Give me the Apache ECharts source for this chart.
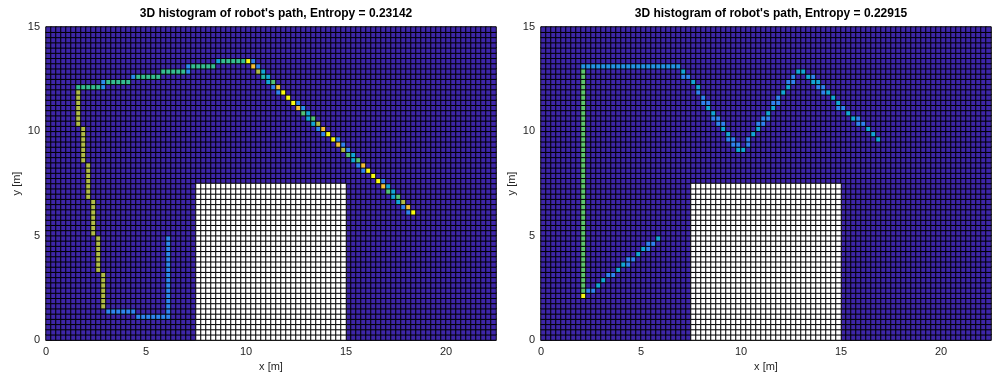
<!DOCTYPE html>
<html>
<head>
<meta charset="utf-8">
<script src="https://cdn.jsdelivr.net/npm/echarts@6/dist/echarts.min.js"></script>
<style>
  html, body { margin: 0; padding: 0; background: #fff; }
  #main { width: 993px; height: 383px; }
</style>
</head>
<body>
<div id="main"></div>
<script>
// histogram bins: 0.25 m cells, 90 x 60 over a 22.5 x 15 m map
const cellSize = 0.25;
const nX = 90, nY = 60;
const xTicks = [0, 5, 10, 15, 20];
const yTicks = [0, 5, 10, 15];
const titles = [
  "3D histogram of robot's path, Entropy = 0.23142",
  "3D histogram of robot's path, Entropy = 0.22915"
];

// obstacle cells (shown white): [ix0, ix1, iy0, iy1]
const obstacle = [30, 59, 0, 29];

// straight runs of path cells: [ix0, ix1, iy0, iy1, count]
const leftRuns = [
  [18, 24, 4, 4, 0.28], [12, 17, 5, 5, 0.28], [24, 24, 5, 19, 0.28],
  [11, 11, 6, 12, 0.72], [10, 10, 13, 19, 0.72], [9, 9, 20, 26, 0.72],
  [8, 8, 27, 33, 0.72], [7, 7, 34, 40, 0.72], [6, 6, 41, 47, 0.72],
  [6, 10, 48, 48, 0.53], [11, 11, 48, 48, 0.3],
  [11, 11, 49, 49, 0.3], [12, 16, 49, 49, 0.53],
  [17, 17, 50, 50, 0.3], [18, 22, 50, 50, 0.53],
  [23, 27, 51, 51, 0.53], [28, 28, 51, 51, 0.3],
  [28, 28, 52, 52, 0.3], [29, 33, 52, 52, 0.53],
  [34, 34, 53, 53, 0.4], [35, 39, 53, 53, 0.53], [40, 40, 53, 53, 1.0]
];

// single path cells: [ix, iy, count]
const leftCells = [
  [41, 53, 0.27],
  [41, 52, 0.88], [42, 52, 0.27],
  [42, 51, 0.72], [43, 51, 0.4],
  [43, 50, 0.48], [44, 50, 0.4],
  [44, 49, 0.4], [45, 49, 0.58],
  [45, 48, 0.27], [46, 48, 0.88],
  [46, 47, 0.27], [47, 47, 1.0],
  [48, 46, 1.0],
  [49, 45, 1.0], [50, 45, 0.27],
  [50, 44, 0.88], [51, 44, 0.3],
  [51, 43, 0.58], [52, 43, 0.4],
  [52, 42, 0.4], [53, 42, 0.58],
  [53, 41, 0.4], [54, 41, 0.72],
  [54, 40, 0.27], [55, 40, 0.88],
  [55, 39, 0.27], [56, 39, 1.0],
  [57, 38, 1.0], [58, 38, 0.27],
  [58, 37, 0.88], [59, 37, 0.27],
  [59, 36, 0.72], [60, 36, 0.27],
  [60, 35, 0.58], [61, 35, 0.4],
  [61, 34, 0.4], [62, 34, 0.58],
  [62, 33, 0.27], [63, 33, 0.88],
  [63, 32, 0.27], [64, 32, 1.0],
  [65, 31, 1.0],
  [66, 30, 1.0], [67, 30, 0.27],
  [67, 29, 0.88], [68, 29, 0.4],
  [68, 28, 0.58], [69, 28, 0.4],
  [69, 27, 0.4], [70, 27, 0.58],
  [70, 26, 0.4], [71, 26, 0.72],
  [71, 25, 0.27], [72, 25, 0.88],
  [72, 24, 0.27], [73, 24, 1.0]
];

const rightRuns = [
  [8, 8, 8, 8, 1.0],
  [8, 8, 9, 51, 0.6],
  [8, 27, 52, 52, 0.33]
];

const rightCells = [
  // start diagonal
  [9, 9, 0.27], [10, 9, 0.27], [11, 10, 0.4], [12, 11, 0.4],
  [13, 12, 0.27], [14, 12, 0.27], [15, 13, 0.4], [16, 14, 0.4], [17, 14, 0.27],
  [17, 15, 0.27], [18, 15, 0.27], [19, 16, 0.4], [20, 17, 0.4], [21, 17, 0.27],
  [21, 18, 0.27], [22, 18, 0.27], [23, 19, 0.4],
  // down from the top corner
  [28, 51, 0.4], [28, 50, 0.27], [29, 50, 0.27], [30, 49, 0.4], [31, 48, 0.4],
  [31, 47, 0.27], [32, 46, 0.27], [32, 45, 0.27], [33, 45, 0.27], [33, 44, 0.4],
  [34, 43, 0.4], [34, 42, 0.27], [35, 42, 0.27], [35, 41, 0.27], [36, 41, 0.27],
  [36, 40, 0.4], [37, 39, 0.4], [37, 38, 0.27], [38, 38, 0.27], [38, 37, 0.27],
  [39, 37, 0.27], [39, 36, 0.4], [40, 36, 0.4],
  // up to the peak
  [41, 37, 0.27], [41, 38, 0.27], [42, 39, 0.4], [43, 40, 0.4], [43, 41, 0.27],
  [44, 41, 0.27], [44, 42, 0.27], [45, 42, 0.27], [45, 43, 0.4], [46, 44, 0.4],
  [46, 45, 0.27], [47, 45, 0.27], [47, 46, 0.27], [48, 47, 0.4], [49, 48, 0.4],
  [49, 49, 0.27], [50, 49, 0.27], [50, 50, 0.27], [51, 51, 0.4], [52, 51, 0.4],
  // down to the end
  [53, 50, 0.4], [54, 50, 0.27], [54, 49, 0.4], [55, 49, 0.4], [55, 48, 0.27],
  [56, 48, 0.27], [56, 47, 0.27], [57, 47, 0.4], [58, 46, 0.4], [59, 45, 0.4],
  [59, 44, 0.27], [60, 44, 0.27], [61, 43, 0.4], [62, 42, 0.4], [63, 42, 0.27],
  [63, 41, 0.27], [64, 41, 0.27], [65, 40, 0.4], [66, 39, 0.4], [67, 38, 0.4]
];

const parula = ['#3e26a8', '#4743e4', '#3f6cf6', '#2c8cee', '#14a6d6', '#26bca2',
  '#5ec46c', '#a4bd4c', '#dfb93a', '#fcc23a', '#f9fb15'];

function buildCells(runs, cells) {
  const counts = {};
  runs.forEach(([x0, x1, y0, y1, v]) => {
    for (let x = x0; x <= x1; x++)
      for (let y = y0; y <= y1; y++) counts[x + ',' + y] = v;
  });
  cells.forEach(([x, y, v]) => { counts[x + ',' + y] = v; });
  const free = [], wall = [];
  for (let x = 0; x < nX; x++) {
    for (let y = 0; y < nY; y++) {
      const inWall = x >= obstacle[0] && x <= obstacle[1] && y >= obstacle[2] && y <= obstacle[3];
      if (inWall) wall.push([x, y, 0]);
      else free.push([x, y, counts[x + ',' + y] || 0]);
    }
  }
  return [free, wall];
}

const [leftFree, leftWall] = buildCells(leftRuns, leftCells);
const [rightFree, rightWall] = buildCells(rightRuns, rightCells);

const xCats = Array.from({ length: nX }, (_, i) => i);
const yCats = Array.from({ length: nY }, (_, i) => i);

const font = 'Liberation Sans, Arial, Helvetica, sans-serif';
const textColor = '#262626';
const grids = [
  { left: 46, top: 27, width: 450, height: 313 },
  { left: 541, top: 27, width: 450, height: 313 }
];

const xAxes = [], yAxes = [], series = [];
grids.forEach((g, i) => {
  // hidden bin axes for the heatmap
  xAxes.push({ type: 'category', gridIndex: i, data: xCats, show: false, position: 'top' });
  yAxes.push({ type: 'category', gridIndex: i, data: yCats, show: false, position: 'right' });
  // metre axes
  xAxes.push({
    type: 'value', gridIndex: i, position: 'bottom',
    min: 0, max: nX * cellSize, interval: xTicks[1] - xTicks[0],
    name: 'x [m]', nameLocation: 'middle', nameGap: 14,
    nameTextStyle: { color: textColor, fontSize: 11, fontFamily: font },
    axisLine: { lineStyle: { color: '#404040', width: 1 } },
    axisTick: { show: false },
    splitLine: { show: false },
    axisLabel: { color: textColor, fontSize: 11, fontFamily: font, margin: 6, showMaxLabel: false }
  });
  yAxes.push({
    type: 'value', gridIndex: i, position: 'left',
    min: 0, max: nY * cellSize, interval: yTicks[1] - yTicks[0],
    name: 'y [m]', nameLocation: 'middle', nameGap: 24,
    nameTextStyle: { color: textColor, fontSize: 11, fontFamily: font },
    axisLine: { show: true, lineStyle: { color: '#404040', width: 1 } },
    axisTick: { show: false },
    splitLine: { show: false },
    axisLabel: { color: textColor, fontSize: 11, fontFamily: font, margin: 6 }
  });
});

const cellStyle = { borderColor: '#000', borderWidth: 1 };
[[leftFree, leftWall], [rightFree, rightWall]].forEach(([free, wall], i) => {
  series.push({
    type: 'heatmap', xAxisIndex: i * 2, yAxisIndex: i * 2,
    data: free, itemStyle: cellStyle, progressive: 0, silent: true
  });
  series.push({
    type: 'heatmap', xAxisIndex: i * 2, yAxisIndex: i * 2,
    data: wall, itemStyle: Object.assign({ color: '#ffffff' }, cellStyle),
    progressive: 0, silent: true
  });
});

const myChart = echarts.init(document.getElementById('main'), null, { renderer: 'canvas' });
myChart.setOption({
  animation: false,
  backgroundColor: '#fff',
  title: titles.map((t, i) => ({
    text: t,
    left: grids[i].left + grids[i].width / 2,
    top: 3,
    textAlign: 'center',
    textStyle: { fontSize: 12, fontWeight: 'bold', color: '#000', fontFamily: font }
  })),
  grid: grids.map(g => Object.assign({ outerBoundsMode: 'none' }, g)),
  xAxis: xAxes,
  yAxis: yAxes,
  visualMap: {
    show: false, type: 'continuous', min: 0, max: 1,
    seriesIndex: [0, 2], dimension: 2,
    inRange: { color: parula }
  },
  series: series
});
</script>
</body>
</html>
